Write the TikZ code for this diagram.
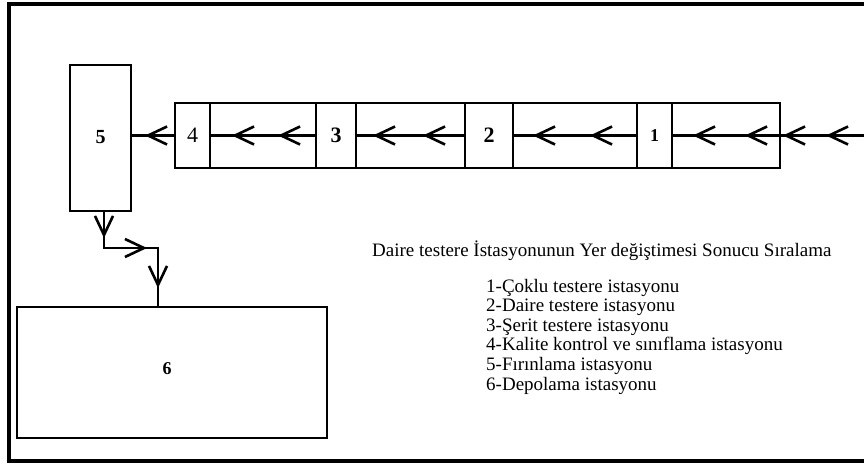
\documentclass[tikz,border=0pt]{standalone}
\usepackage{fontspec}
\setmainfont{Liberation Serif}
\usetikzlibrary{arrows.meta,decorations.markings}
\begin{document}
\begin{tikzpicture}[x=1pt,y=-1pt,
  box/.style={draw,line width=2.6pt,inner sep=0pt,outer sep=0pt},
  stn/.style={box,minimum height=65pt},
  conn/.style={line width=2.6pt},
  >={Straight Barb[length=19pt,width=18pt]},
  chev at/.style={postaction={decorate,decoration={markings,mark=at position #1 with {\arrow{>}}}}},
  lbl/.style={font=\fontsize{19}{19.6}\selectfont,anchor=base west,inner sep=0pt}]
\useasboundingbox (0,0) rectangle (864,464);
% frame (no right edge visible)
\draw[line width=3.5pt] (864,4) -- (9,4) -- (9,461) -- (864,461);
% conveyor strip
\node[box,minimum width=605pt,minimum height=65pt] (strip) at (477.5,135.5) {};
\node[stn,minimum width=35pt] (s4) at (192.5,135.5) {\fontsize{22}{22}\selectfont 4};
\node[stn,minimum width=40pt] (s3) at (336,135.5) {\fontsize{22}{22}\selectfont\bfseries 3};
\node[stn,minimum width=48pt] (s2) at (489,135.5) {\fontsize{22}{22}\selectfont\bfseries 2};
\node[stn,minimum width=35pt] (s1) at (654.5,135.5) {\fontsize{18}{18}\selectfont\bfseries 1};
% station 5 and 6
\node[box,minimum width=61pt,minimum height=146pt] (s5) at (100.5,138) {\raisebox{3pt}{\fontsize{20}{20}\selectfont\bfseries 5}};
\node[box,minimum width=310pt,minimum height=131pt] (s6) at (172,372.5) {\raisebox{7pt}{\fontsize{18}{18}\selectfont\bfseries 6}\hspace*{10pt}};
% connectors
\coordinate (in) at (864,135.5);
\draw[conn,chev at=38pt,chev at=81pt,chev at=119pt,chev at=171pt] (in) -- (s1.east);
\draw[conn,chev at=47pt,chev at=104pt] (s1.west) -- (s2.east);
\draw[conn,chev at=42pt,chev at=92pt] (s2.west) -- (s3.east);
\draw[conn,chev at=38pt,chev at=84pt] (s3.west) -- (s4.east);
\draw[conn,chev at=30pt] (s4.west) -- (s5.east |- s4.west);
\coordinate (k) at (158,248);
\draw[conn,chev at=27pt,chev at=80pt,chev at=131pt] ([xshift=3.5pt]s5.south) |- (k) -- (k |- s6.north);
% texts
\node[lbl] (title) at (372,256) {Daire testere İstasyonunun Yer değiştimesi Sonucu Sıralama};
\node[lbl] (l1) at (486,292) {1-Çoklu testere istasyonu};
\node[lbl] (l2) at (486,311.6) {2-Daire testere istasyonu};
\node[lbl] (l3) at (486,331.2) {3-Şerit testere istasyonu};
\node[lbl] (l4) at (486,350.8) {4-Kalite kontrol ve sınıflama istasyonu};
\node[lbl] (l5) at (486,370.4) {5-Fırınlama istasyonu};
\node[lbl] (l6) at (486,390) {6-Depolama istasyonu};
\end{tikzpicture}
\end{document}
